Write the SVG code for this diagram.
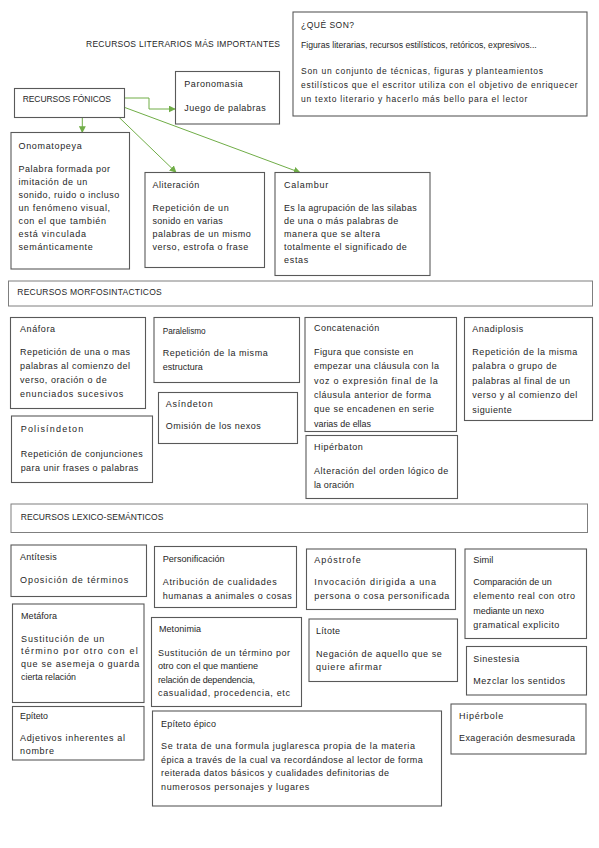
<svg xmlns="http://www.w3.org/2000/svg" width="599" height="848" viewBox="0 0 599 848">
<style>
.b{fill:#fff;stroke:#595959;stroke-width:1.1}
.hb{fill:#fff;stroke:#7f7f7f;stroke-width:1}
text{font-family:"Liberation Sans",Arial,sans-serif;font-size:9px;fill:#262626}
.s{font-size:8.5px}
.h{font-size:8.5px}
.c{fill:none;stroke:#70AD47;stroke-width:1}
</style>
<defs>
<marker id="ah" viewBox="0 0 10 10" refX="9" refY="5" markerWidth="7" markerHeight="7" markerUnits="userSpaceOnUse" orient="auto"><path d="M0,0 L10,5 L0,10 z" fill="#70AD47"/></marker>
</defs>
<rect width="599" height="848" fill="#fff"/>
<text id="title" x="86" y="46.5" class="h" textLength="194">RECURSOS LITERARIOS MÁS IMPORTANTES</text>
<g id="connectors">
<path class="c" d="M124.3,98 H149 V109 H175" marker-end="url(#ah)"/>
<path class="c" d="M82.3,117.3 V132.5" marker-end="url(#ah)"/>
<path class="c" d="M119,117.3 L176,172.3" marker-end="url(#ah)"/>
<path class="c" d="M124.3,107.3 L300,172.5" marker-end="url(#ah)"/>
</g>
<g id="quees">
<rect class="b" x="293" y="12" width="294" height="104"/>
<text class="s" x="301" y="28" textLength="53">¿QUÉ SON?</text>
<text class="s" x="301" y="47.5" textLength="235.7" lengthAdjust="spacingAndGlyphs">Figuras literarias, recursos estilísticos, retóricos, expresivos...</text>
<text class="s" x="301" y="74" textLength="242">Son un conjunto de técnicas, figuras y planteamientos</text>
<text class="s" x="301" y="87.5" textLength="276.7">estilísticos que el escritor utiliza con el objetivo de enriquecer</text>
<text class="s" x="301" y="102" textLength="226.3">un texto literario y hacerlo más bello para el lector</text>
</g>
<g id="fonicos">
<rect class="b" x="14.5" y="88.5" width="110" height="29"/>
<text class="h" x="22.7" y="102" textLength="88.3">RECURSOS FÓNICOS</text>
</g>
<g id="paronomasia">
<rect class="b" x="175.5" y="71.5" width="104" height="52.5"/>
<text x="184.3" y="86.5" textLength="58.4">Paronomasia</text>
<text x="184.3" y="110.5" textLength="81.4">Juego de palabras</text>
</g>
<g id="onomatopeya">
<rect class="b" x="11" y="132.5" width="118.5" height="136.5"/>
<text x="18.5" y="149" textLength="63.2">Onomatopeya</text>
<text x="18.5" y="171.5" textLength="91.5">Palabra formada por</text>
<text x="18.5" y="184.5" textLength="68.8">imitación de un</text>
<text x="18.5" y="197.5" textLength="100.8">sonido, ruido o incluso</text>
<text x="18.5" y="210.5" textLength="91.5">un fenómeno visual,</text>
<text x="18.5" y="223.5" textLength="87.5">con el que también</text>
<text x="18.5" y="236.5" textLength="67.5">está vinculada</text>
<text x="18.5" y="250" textLength="74.2">semánticamente</text>
</g>
<g id="aliteracion">
<rect class="b" x="145" y="172.5" width="119.5" height="95"/>
<text x="152.5" y="188" textLength="46.8">Aliteración</text>
<text x="152.5" y="210.5" textLength="76.2">Repetición de un</text>
<text x="152.5" y="223.5" textLength="70.2">sonido en varias</text>
<text x="152.5" y="236.5" textLength="98.2">palabras de un mismo</text>
<text x="152.5" y="250" textLength="95.8">verso, estrofa o frase</text>
</g>
<g id="calambur">
<rect class="b" x="275" y="172.5" width="155" height="103"/>
<text x="284" y="187.5" textLength="44.3">Calambur</text>
<text x="284" y="211" textLength="132.7">Es la agrupación de las silabas</text>
<text x="284" y="224" textLength="114.3">de una o más palabras de</text>
<text x="284" y="236.5" textLength="96">manera que se altera</text>
<text x="284" y="250" textLength="122.7">totalmente el significado de</text>
<text x="284" y="262.5" textLength="24.3">estas</text>
</g>
<g id="morfo">
<rect class="hb" x="8.5" y="281" width="584" height="25"/>
<text class="h" x="17.3" y="295" textLength="144.4">RECURSOS MORFOSINTACTICOS</text>
</g>
<g id="anafora">
<rect class="b" x="10.5" y="317.5" width="135" height="91"/>
<text x="20" y="331.5" textLength="35">Anáfora</text>
<text x="20" y="355" textLength="110">Repetición de una o mas</text>
<text x="20" y="369" textLength="110">palabras al comienzo del</text>
<text x="20" y="383" textLength="86.7">verso, oración o de</text>
<text x="20" y="397" textLength="103.3">enunciados sucesivos</text>
</g>
<g id="paralelismo">
<rect class="b" x="154" y="317.5" width="145.5" height="65"/>
<text x="162.7" y="334" textLength="43" lengthAdjust="spacingAndGlyphs">Paralelismo</text>
<text x="162.7" y="355.5" textLength="105">Repetición de la misma</text>
<text x="162.7" y="369.5" textLength="40" lengthAdjust="spacingAndGlyphs">estructura</text>
</g>
<g id="asindeton">
<rect class="b" x="158.5" y="392.5" width="139" height="51"/>
<text x="165.7" y="407" textLength="47">Asíndeton</text>
<text x="165.7" y="429" textLength="95">Omisión de los nexos</text>
</g>
<g id="polisindeton">
<rect class="b" x="11.5" y="416" width="141" height="66.5"/>
<text x="20.7" y="432" textLength="62.6">Polisíndeton</text>
<text x="20.7" y="456.5" textLength="122">Repetición de conjunciones</text>
<text x="20.7" y="470.5" textLength="117.6">para unir frases o palabras</text>
</g>
<g id="concatenacion">
<rect class="b" x="305" y="317.5" width="151.5" height="114"/>
<text x="314" y="331" textLength="65.3">Concatenación</text>
<text x="314" y="354.5" textLength="99.3">Figura que consiste en</text>
<text x="314" y="369" textLength="125">empezar una cláusula con la</text>
<text x="314" y="383.5" textLength="123.7">voz o expresión final de la</text>
<text x="314" y="397.5" textLength="117">cláusula anterior de forma</text>
<text x="314" y="412" textLength="120">que se encadenen en serie</text>
<text x="314" y="427" textLength="57" lengthAdjust="spacingAndGlyphs">varias de ellas</text>
</g>
<g id="anadiplosis">
<rect class="b" x="464.5" y="317.5" width="128" height="103"/>
<text x="472.3" y="331.5" textLength="51">Anadiplosis</text>
<text x="472.3" y="355" textLength="105">Repetición de la misma</text>
<text x="472.3" y="369" textLength="84.4">palabra o grupo de</text>
<text x="472.3" y="383.5" textLength="97.7">palabras al final de un</text>
<text x="472.3" y="397.5" textLength="105">verso y al comienzo del</text>
<text x="472.3" y="412.5" textLength="39.4">siguiente</text>
</g>
<g id="hiperbaton">
<rect class="b" x="306" y="435.5" width="151.5" height="63"/>
<text x="314" y="450" textLength="48.7">Hipérbaton</text>
<text x="314" y="473.5" textLength="134.3">Alteración del orden lógico de</text>
<text x="314" y="487.5" textLength="40">la oración</text>
</g>
<g id="lexico">
<rect class="hb" x="11" y="504" width="576.5" height="28.5"/>
<text class="h" x="20.7" y="520" textLength="142.6">RECURSOS LEXICO-SEMÁNTICOS</text>
</g>
<g id="antitesis">
<rect class="b" x="11" y="545" width="135.5" height="51.5"/>
<text x="20" y="559.5" textLength="36.7">Antítesis</text>
<text x="20" y="583" textLength="108.3">Oposición de términos</text>
</g>
<g id="personificacion">
<rect class="b" x="154.5" y="546.5" width="142" height="61"/>
<text x="162.7" y="561.5" textLength="62" lengthAdjust="spacingAndGlyphs">Personificación</text>
<text x="162.7" y="585" textLength="114">Atribución de cualidades</text>
<text x="162.7" y="598.5" textLength="129">humanas a animales o cosas</text>
</g>
<g id="apostrofe">
<rect class="b" x="306.5" y="549" width="149" height="60.5"/>
<text x="314.3" y="563" textLength="46.4">Apóstrofe</text>
<text x="314.3" y="585" textLength="121.7">Invocación dirigida a una</text>
<text x="314.3" y="598.5" textLength="135">persona o cosa personificada</text>
</g>
<g id="simil">
<rect class="b" x="465" y="549" width="121.5" height="89.5"/>
<text x="473.3" y="563" textLength="20" lengthAdjust="spacingAndGlyphs">Simil</text>
<text x="473.3" y="585" textLength="78.4">Comparación de un</text>
<text x="473.3" y="599" textLength="101.7">elemento real con otro</text>
<text x="473.3" y="613.5" textLength="70.7">mediante un nexo</text>
<text x="473.3" y="628" textLength="86">gramatical explicito</text>
</g>
<g id="metafora">
<rect class="b" x="12.5" y="604" width="131.5" height="98.5"/>
<text x="21" y="619" textLength="36">Metáfora</text>
<text x="21" y="641.5" textLength="83.3">Sustitución de un</text>
<text x="21" y="654" textLength="116.7">término por otro con el</text>
<text x="21" y="667" textLength="118.3">que se asemeja o guarda</text>
<text x="21" y="680" textLength="55" lengthAdjust="spacingAndGlyphs">cierta relación</text>
</g>
<g id="metonimia">
<rect class="b" x="151.5" y="617.5" width="150" height="89"/>
<text x="159" y="632" textLength="42">Metonimia</text>
<text x="158" y="656" textLength="132">Sustitución de un término por</text>
<text x="158" y="669" textLength="100" lengthAdjust="spacingAndGlyphs">otro con el que mantiene</text>
<text x="158" y="682.5" textLength="97">relación de dependencia,</text>
<text x="158" y="696" textLength="132">casualidad, procedencia, etc</text>
</g>
<g id="litote">
<rect class="b" x="309" y="619" width="148.5" height="62.5"/>
<text x="316" y="634" textLength="24">Lítote</text>
<text x="316" y="656.5" textLength="125.7">Negación de aquello que se</text>
<text x="316" y="670" textLength="65.7">quiere afirmar</text>
</g>
<g id="sinestesia">
<rect class="b" x="466.5" y="646.5" width="120" height="48.5"/>
<text x="473.3" y="661.5" textLength="46">Sinestesia</text>
<text x="473.3" y="683.5" textLength="91.7">Mezclar los sentidos</text>
</g>
<g id="epiteto">
<rect class="b" x="12.5" y="706.5" width="131.5" height="53.5"/>
<text x="20" y="719" textLength="28" lengthAdjust="spacingAndGlyphs">Epíteto</text>
<text x="20" y="740.5" textLength="105">Adjetivos inherentes al</text>
<text x="20" y="754" textLength="34">nombre</text>
</g>
<g id="epitetoepico">
<rect class="b" x="152.5" y="711" width="289" height="95"/>
<text x="161" y="726.5" textLength="55">Epíteto épico</text>
<text x="161" y="749" textLength="254">Se trata de una formula juglaresca propia de la materia</text>
<text x="161" y="762.5" textLength="261.7">épica a través de la cual va recordándose al lector de forma</text>
<text x="161" y="776" textLength="228">reiterada datos básicos y cualidades definitorias de</text>
<text x="161" y="789.5" textLength="148.3">numerosos personajes y lugares</text>
</g>
<g id="hiperbole">
<rect class="b" x="451" y="704" width="135" height="50"/>
<text x="459" y="719" textLength="44.3">Hipérbole</text>
<text x="459" y="740.5" textLength="116">Exageración desmesurada</text>
</g>
</svg>
